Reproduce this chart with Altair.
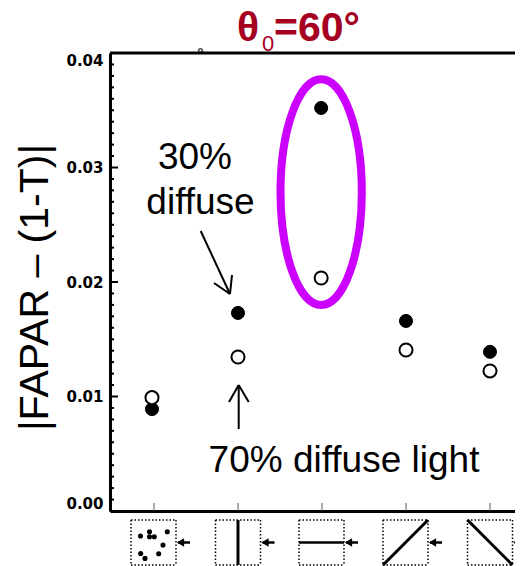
import altair as alt
import pandas as pd

# ---- data
categories = [0.976, 2.0, 2.99, 4.0, 5.0]
diffuse_30 = [0.0089, 0.0173, 0.0352, 0.0166, 0.0139]
diffuse_70 = [0.0099, 0.01345, 0.02035, 0.01406, 0.01223]
major_ticks = [0.0, 0.01, 0.02, 0.03, 0.04]
minor_ticks = [i / 1000 for i in range(0, 41) if i % 10]
x_ticks = [1, 2, 3, 4, 5]
ellipse_x = [2.99]
ellipse_y = [0.02785]

OX, OY = 110, 53      # plot origin in the picture
W, H = 405, 458
xs = alt.Scale(domain=[1 - 44 / 84, 1 + 361 / 84], nice=False, zero=False)
ys = alt.Scale(domain=[0, 0.04], nice=False, zero=False)
one = alt.Data(values=[{"a": 1}])


def seg(x0, y0, x1, y1, w=2.0, color="black", dash=None):
    kw = dict(stroke=color, strokeWidth=w, clip=False)
    if dash:
        kw["strokeDash"] = dash
    return alt.Chart(one).mark_rule(**kw).encode(
        x=alt.value(x0 - OX), x2=alt.value(x1 - OX),
        y=alt.value(y0 - OY), y2=alt.value(y1 - OY))


def label(txt, x, y, size, color="black", weight="normal", align="center"):
    return alt.Chart(one).mark_text(
        text=txt, font="Liberation Sans", fontSize=size, color=color,
        fontWeight=weight, align=align, baseline="middle", clip=False
    ).encode(x=alt.value(x - OX), y=alt.value(y - OY))


def dot(x, y, size=26):
    return alt.Chart(one).mark_point(
        filled=True, fill="black", stroke=None, size=size, opacity=1, clip=False
    ).encode(x=alt.value(x - OX), y=alt.value(y - OY))


layers = []

# axis frame and labels
base = alt.Chart(pd.DataFrame({"x": x_ticks})).mark_rule(
    stroke="#555555", strokeWidth=1
).encode(
    x=alt.X("x:Q", scale=xs, axis=alt.Axis(
        title=None, labels=False, ticks=False, grid=False,
        domainColor="black", domainWidth=3, values=[])),
    y=alt.value(H), y2=alt.value(H - 8),
)
layers.append(base)

y_axis = alt.Chart(pd.DataFrame({"t": major_ticks})).mark_rule(
    stroke="black", strokeWidth=2
).encode(
    y=alt.Y("t:Q", scale=ys, axis=alt.Axis(
        title="|FAPAR – (1-T)|", titleFont="Liberation Sans", titleFontSize=41,
        titleFontWeight="normal", titleColor="black", titleX=-54, titleY=234,
        titleAngle=-90, values=major_ticks, format=".2f", ticks=False,
        grid=False, domainColor="black", domainWidth=3,
        labelFont="DejaVu Sans", labelFontWeight="bold", labelFontSize=15,
        labelColor="black", labelFlush=True, labelPadding=7)),
    x=alt.value(0), x2=alt.value(8),
)
layers.append(y_axis)

layers.append(alt.Chart(pd.DataFrame({"t": minor_ticks})).mark_rule(
    stroke="black", strokeWidth=2
).encode(y=alt.Y("t:Q", scale=ys), x=alt.value(0), x2=alt.value(4)))

# top frame line
layers.append(seg(OX, OY, OX + W, OY, 3))
# small stray mark on the top frame
layers.append(alt.Chart(one).mark_point(
    shape="circle", filled=False, stroke="black", strokeWidth=1.5, size=14, clip=False
).encode(x=alt.value(200.5 - OX), y=alt.value(50.5 - OY)))

# ellipse highlight
layers.append(alt.Chart(pd.DataFrame({"x": ellipse_x, "y": ellipse_y})).mark_point(
    shape="M-0.36,0A0.36,1 0 1,1 0.36,0A0.36,1 0 1,1 -0.36,0Z",
    filled=False, stroke="#CC00FF", strokeWidth=8, size=51000, opacity=1, clip=False
).encode(x=alt.X("x:Q", scale=xs), y=alt.Y("y:Q", scale=ys)))

# data series
df = pd.DataFrame({"x": categories, "a": diffuse_30, "b": diffuse_70})
layers.append(alt.Chart(df).mark_point(
    filled=True, fill="black", stroke="black", strokeWidth=1, size=170, opacity=1
).encode(x=alt.X("x:Q", scale=xs), y=alt.Y("a:Q", scale=ys)))
layers.append(alt.Chart(df).mark_point(
    filled=True, fill="white", stroke="black", strokeWidth=2, size=170, opacity=1
).encode(x=alt.X("x:Q", scale=xs), y=alt.Y("b:Q", scale=ys)))

# annotation texts
layers.append(label("30%", 195, 158, 37))
layers.append(label("diffuse", 200.5, 203, 37))
layers.append(label("70% diffuse light", 344, 461, 37))

# annotation arrows
for s in [(200.7, 231, 230, 294), (214, 283, 230, 294), (232, 275, 230, 294),
          (238.7, 429, 238.7, 385), (229, 402, 238.7, 385), (248.7, 402, 238.7, 385)]:
    layers.append(seg(*s, w=2))

# panel title
red = "#A50021"
layers.append(label("θ", 237, 29, 41, red, "bold", "left"))
layers.append(label("0", 262, 44, 22, red, "normal", "left"))
layers.append(label("=60°", 274, 29, 41, red, "bold", "left"))

# orientation icons below the axis
boxes = [131, 215.5, 299, 383, 467.5]
for bx in boxes:
    dash = [1.5, 2]
    layers.append(seg(bx, 520, bx + 45, 520, 1.5, dash=dash))
    layers.append(seg(bx, 565, bx + 45, 565, 1.5, dash=dash))
    layers.append(seg(bx, 520, bx, 565, 1.5, dash=dash))
    layers.append(seg(bx + 45, 520, bx + 45, 565, 1.5, dash=dash))
    # little arrow pointing at the box
    layers.append(seg(bx + 47, 542.5, bx + 59, 542.5, 2.5))
    layers.append(alt.Chart(one).mark_point(
        shape="triangle-left", filled=True, fill="black", stroke=None,
        size=70, opacity=1, clip=False
    ).encode(x=alt.value(bx + 49.5 - OX), y=alt.value(542.5 - OY)))

layers.append(seg(238, 520, 238, 565, 3))
layers.append(seg(299, 542.5, 344, 542.5, 2.5))
layers.append(seg(383, 565, 428, 520, 3))
layers.append(seg(467.5, 520, 512.5, 565, 3))

for d in [(140.5, 536), (149.5, 531.7), (149.5, 536.7), (154.3, 536.7), (167.3, 531.7),
          (163, 545), (158.7, 553.7), (140.7, 553.5), (145, 558.4)]:
    layers.append(dot(*d))

chart = alt.layer(*layers).properties(
    width=W, height=H,
    autosize=alt.AutoSizeParams(type="none"),
    padding={"left": 102, "top": 45, "right": 0, "bottom": 55},
    background="white",
).configure_view(stroke=None)

chart.save("out.html", embed_options={"renderer": "svg", "actions": False})
